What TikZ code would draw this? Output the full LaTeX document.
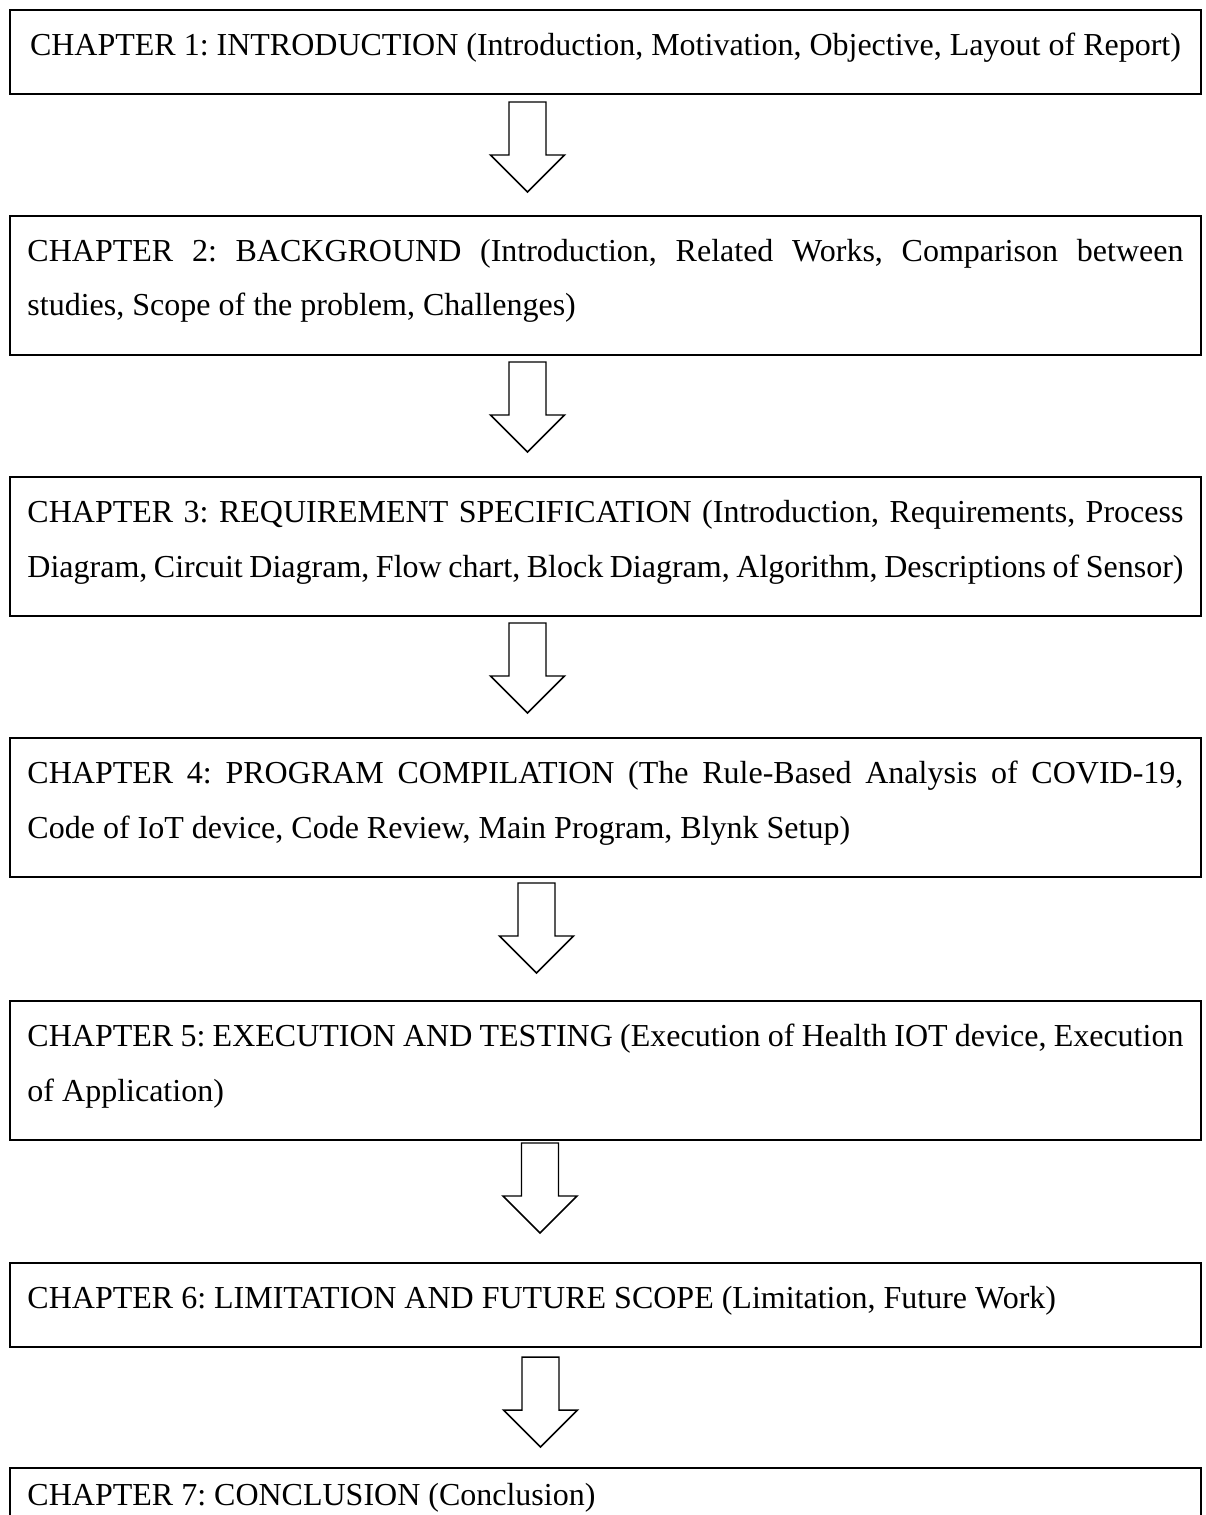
\documentclass[tikz,border=0pt]{standalone}
\usepackage{fontspec}
\setmainfont{Liberation Serif}
\usepackage{tikz}

\newcommand{\chaptop}{16.9pt}
\newcommand{\chaparrow}[1]{%
    \draw[arrowline] (#1) ++(-18.5,0) -- ++(0,53) -- ++(-18.5,0) -- ++(37,37)
        -- ++(37,-37) -- ++(-18.5,0) -- ++(0,-53) -- cycle;}

\tikzset{
    topstrut/.store in=\chaptop,
    chapbox/.style={draw, line width=1pt, anchor=north west, outer sep=0pt,
        inner xsep=6.56pt, inner ysep=0pt, text width=433.5pt, align=justify,
        font=\fontsize{12pt}{20.6pt}\selectfont,
        execute at begin node={\frenchspacing\hyphenpenalty=10000\tolerance=9999\rule{0pt}{\chaptop}},
        execute at end node={\rule[-14.6pt]{0pt}{14.6pt}}},
    arrowline/.style={line width=0.55pt, line join=miter}
}

\begin{document}
\begin{tikzpicture}[x=0.375pt, y=-0.375pt]
        \useasboundingbox (0,0) rectangle (1205,1515);

        \node[chapbox] (ch1) at (10,10)
            {\makebox[\linewidth]{CHAPTER 1: INTRODUCTION (Introduction, Motivation, Objective, Layout of Report)}};
        \node[chapbox] (ch2) at (10,216)
            {CHAPTER 2: BACKGROUND (Introduction, Related Works, Comparison between\linebreak
            studies, Scope of the problem, Challenges)};
        \node[chapbox] (ch3) at (10,477)
            {CHAPTER 3: REQUIREMENT SPECIFICATION (Introduction, Requirements, Process\linebreak
            Diagram, Circuit Diagram, Flow chart, Block Diagram, Algorithm, Descriptions of Sensor)};
        \node[chapbox] (ch4) at (10,738)
            {CHAPTER 4: PROGRAM COMPILATION (The Rule-Based Analysis of COVID-19,\linebreak
            Code of IoT device, Code Review, Main Program, Blynk Setup)};
        \node[chapbox] (ch5) at (10,1001)
            {CHAPTER 5: EXECUTION AND TESTING (Execution of Health IOT device, Execution\linebreak
            of Application)};
        \node[chapbox] (ch6) at (10,1263)
            {CHAPTER 6: LIMITATION AND FUTURE SCOPE (Limitation, Future Work)};
        \node[chapbox, topstrut=13.9pt] (ch7) at (10,1468)
            {CHAPTER 7: CONCLUSION (Conclusion)};

        \coordinate (a1) at (527.5,102);
        \coordinate (a2) at (527.5,362);
        \coordinate (a3) at (527.5,623);
        \coordinate (a4) at (536.5,883);
        \coordinate (a5) at (540,1143);
        \coordinate (a6) at (540.5,1357);

        \foreach \a in {a1,a2,a3,a4,a5,a6}
            \chaparrow{\a};
    \end{tikzpicture}
\end{document}
